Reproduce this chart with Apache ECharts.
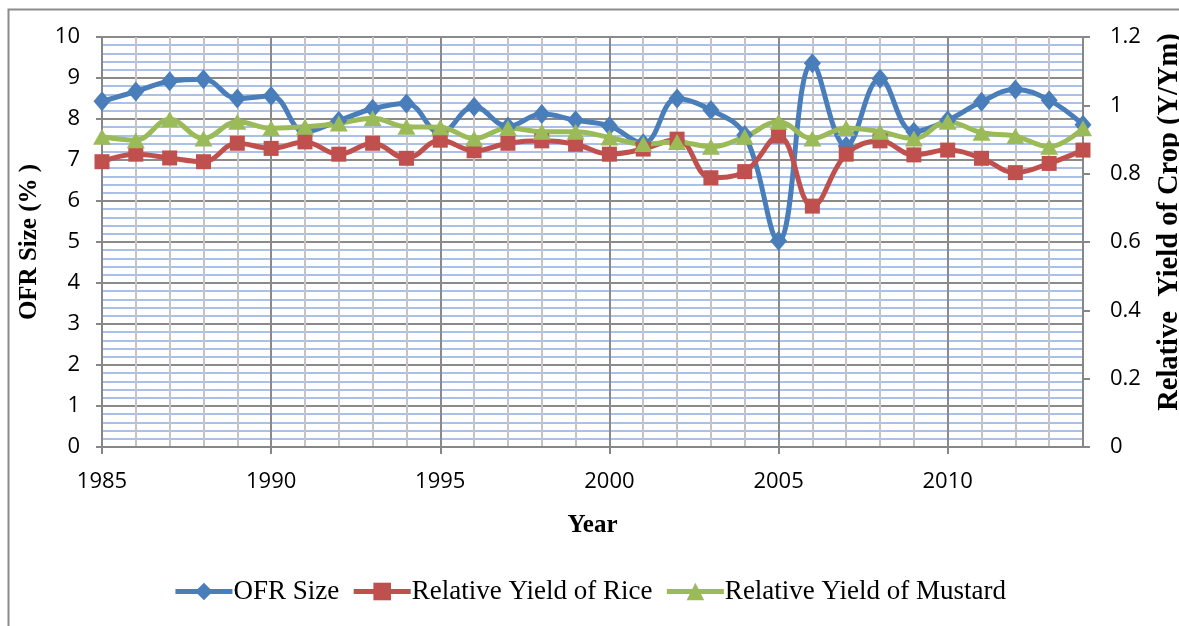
<!DOCTYPE html>
<html>
<head>
<meta charset="utf-8">
<script src="https://cdn.jsdelivr.net/npm/echarts@6/dist/echarts.min.js"></script>
<style>
html,body{margin:0;padding:0;background:#fff;}
#c{width:1179px;height:626px;}
</style>
</head>
<body>
<div id="c"></div>
<script>
const years = [1985,1986,1987,1988,1989,1990,1991,1992,1993,1994,1995,1996,1997,1998,1999,2000,2001,2002,2003,2004,2005,2006,2007,2008,2009,2010,2011,2012,2013,2014];
const ofrSize = [8.43,8.67,8.92,8.97,8.50,8.56,7.69,7.96,8.25,8.38,7.66,8.30,7.82,8.12,7.97,7.83,7.41,8.50,8.22,7.61,5.03,9.36,7.34,8.98,7.69,7.97,8.42,8.72,8.46,7.86];
const riceYield = [0.835,0.857,0.846,0.835,0.889,0.874,0.893,0.857,0.889,0.845,0.898,0.867,0.889,0.896,0.886,0.857,0.872,0.901,0.788,0.806,0.910,0.705,0.857,0.896,0.855,0.869,0.845,0.803,0.830,0.869];
const mustardYield = [0.908,0.898,0.959,0.903,0.952,0.933,0.937,0.947,0.962,0.937,0.936,0.903,0.934,0.923,0.923,0.906,0.887,0.893,0.879,0.908,0.952,0.903,0.934,0.923,0.903,0.952,0.920,0.910,0.879,0.933];
const seriesNames = ['OFR Size','Relative Yield of Rice','Relative Yield of Mustard'];
const axisNames = {x:'Year', left:'OFR Size (% )', right:'Relative  Yield of Crop (Y/Ym)'};

const pair = (arr) => years.map((y,i)=>[y,arr[i]]);
const chart = echarts.init(document.getElementById('c'));
const tickFont = {fontFamily:'Open Sans', fontSize:22, color:'#000'};
const serif = 'Liberation Serif';
chart.setOption({
  animation:false,
  graphic:[{type:'rect', left:6, top:7, shape:{width:1200, height:700}, style:{fill:'none', stroke:'#8c8c8c', lineWidth:2}, silent:true}],
  grid:{left:102, right:96, top:37, bottom:179, outerBoundsMode:'none', containLabel:false},
  legend:{
    bottom:16, left:'center', itemWidth:57, itemHeight:22, itemGap:12,
    lineStyle:{width:5},
    textStyle:{fontFamily:serif, fontSize:27, color:'#000', padding:[0,0,0,-4]},
    data:seriesNames
  },
  xAxis:{
    type:'value', min:1985, max:2014, interval:5,
    name:axisNames.x, nameLocation:'middle', nameGap:66,
    nameTextStyle:{fontFamily:serif, fontWeight:'bold', fontSize:25, color:'#000'},
    axisLine:{lineStyle:{color:'#878787', width:2}},
    axisTick:{show:true, length:7, lineStyle:{color:'#878787', width:2}},
    axisLabel:{...tickFont, margin:24, showMaxLabel:false, formatter:v=>String(v)},
    splitLine:{show:true, lineStyle:{color:'#8a8a8a', width:2}},
    minorTick:{show:false, splitNumber:5},
    minorSplitLine:{show:true, lineStyle:{color:'#c4c4c4', width:2}}
  },
  yAxis:[{
    type:'value', min:0, max:10, interval:1, position:'left',
    name:axisNames.left, nameLocation:'middle', nameGap:60,
    nameTextStyle:{fontFamily:serif, fontWeight:'bold', fontSize:25, color:'#000'},
    axisLine:{show:true, lineStyle:{color:'#878787', width:2}},
    axisTick:{show:true, length:6, lineStyle:{color:'#878787', width:2}},
    axisLabel:{...tickFont, margin:22},
    splitLine:{show:true, lineStyle:{color:'#8a8a8a', width:2}},
    minorTick:{show:false, splitNumber:5},
    minorSplitLine:{show:true, lineStyle:{color:'#a9c0e8', width:2}}
  },{
    type:'value', min:0, max:1.2, interval:0.2, position:'right',
    name:axisNames.right, nameLocation:'middle', nameGap:72,
    nameTextStyle:{fontFamily:serif, fontWeight:'bold', fontSize:28.5, color:'#000', padding:[0,0,0,40]},
    axisLine:{show:true, lineStyle:{color:'#878787', width:2}},
    axisTick:{show:true, length:7, lineStyle:{color:'#878787', width:2}},
    axisLabel:{...tickFont, margin:27},
    splitLine:{show:false}
  }],
  series:[{
    name:seriesNames[0], type:'line', yAxisIndex:0, data:pair(ofrSize),
    smooth:0.4, symbol:'diamond', symbolSize:[17,20],
    lineStyle:{color:'#4a7ebb', width:5}, itemStyle:{color:'#4a7ebb'}
  },{
    name:seriesNames[1], type:'line', yAxisIndex:1, data:pair(riceYield),
    smooth:0.4, symbol:'rect', symbolSize:15,
    lineStyle:{color:'#c0504d', width:5}, itemStyle:{color:'#c0504d'}
  },{
    name:seriesNames[2], type:'line', yAxisIndex:1, data:pair(mustardYield),
    smooth:0.4, symbol:'triangle', symbolSize:[18,16],
    lineStyle:{color:'#9bbb59', width:5}, itemStyle:{color:'#9bbb59'}
  }]
});
</script>
</body>
</html>
